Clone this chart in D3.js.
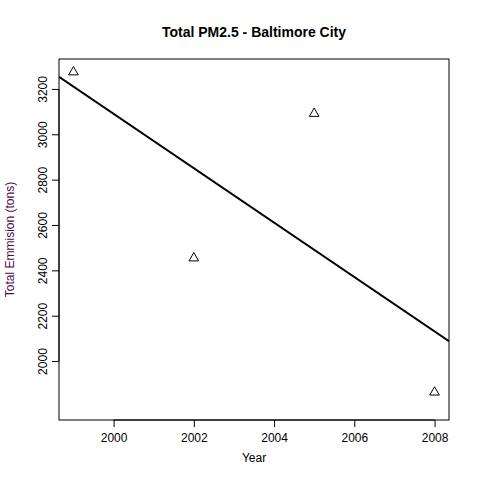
<!DOCTYPE html>
<html><head><meta charset="utf-8">
<script src="https://cdn.jsdelivr.net/npm/d3@7"></script>
<style>body{margin:0;background:#fff}text{font-family:"Liberation Sans",Arial,sans-serif}</style>
</head><body><div id="chart"></div>
<script>
const years = [1999, 2002, 2005, 2008];
const emissions = [3274.18, 2453.92, 3091.35, 1862.28];
const xTicks = [2000, 2002, 2004, 2006, 2008];
const yTicks = [2000, 2200, 2400, 2600, 2800, 3000, 3200];

const W = 480, H = 480, L = 59, R = 449, T = 59, B = 420;
const svg = d3.select('#chart').append('svg').attr('width', W).attr('height', H);

const x = d3.scaleLinear().domain([1998.64, 2008.36]).range([L, R]);
const y = d3.scaleLinear().domain([1740, 3332]).range([B, T]);

// least squares fit, like abline(lm(...))
const mx = d3.mean(years), my = d3.mean(emissions);
const slope = d3.sum(years, (v, i) => (v - mx) * (emissions[i] - my)) / d3.sum(years, v => (v - mx) ** 2);
const fit = v => my + slope * (v - mx);

svg.append('clipPath').attr('id', 'c').append('rect')
  .attr('x', L).attr('y', T).attr('width', R - L).attr('height', B - T);
svg.append('line').attr('clip-path', 'url(#c)')
  .attr('x1', x(1998.64)).attr('y1', y(fit(1998.64)))
  .attr('x2', x(2008.36)).attr('y2', y(fit(2008.36)))
  .attr('stroke', '#000').attr('stroke-width', 2);

const tri = d3.symbol().type(d3.symbolTriangle).size(40);
svg.selectAll('.pt').data(years).join('path')
  .attr('d', tri)
  .attr('transform', (d, i) => `translate(${x(d)},${y(emissions[i])})`)
  .attr('fill', 'none').attr('stroke', '#000').attr('stroke-width', 1);

svg.append('rect').attr('x', L).attr('y', T).attr('width', R - L).attr('height', B - T)
  .attr('fill', 'none').attr('stroke', '#000');

const xa = svg.append('g').attr('transform', `translate(0,${B})`)
  .call(d3.axisBottom(x).tickValues(xTicks).tickFormat(d3.format('d')).tickSize(7).tickPadding(6));
const ya = svg.append('g').attr('transform', `translate(${L},0)`)
  .call(d3.axisLeft(y).tickValues(yTicks).tickFormat(d3.format('d')).tickSize(7));
[xa, ya].forEach(a => {
  a.select('.domain').remove();
  a.selectAll('text').attr('font-size', 12).attr('fill', '#000')
    .attr('font-family', '"Liberation Sans",Arial,sans-serif');
});
ya.selectAll('text').attr('x', 0).attr('dy', 0).attr('y', -12)
  .attr('text-anchor', 'middle').attr('transform', 'rotate(-90)');

svg.append('line').attr('x1', x(2000)).attr('x2', x(2008)).attr('y1', B).attr('y2', B).attr('stroke', '#000');
svg.append('line').attr('x1', L).attr('x2', L).attr('y1', y(2000)).attr('y2', y(3200)).attr('stroke', '#000');

svg.append('text').attr('x', (L + R) / 2).attr('y', 37).attr('text-anchor', 'middle')
  .attr('font-weight', 'bold').attr('font-size', 14).text('Total PM2.5 - Baltimore City');
svg.append('text').attr('x', (L + R) / 2).attr('y', 462).attr('text-anchor', 'middle')
  .attr('font-size', 12).text('Year');
svg.append('text').attr('transform', `translate(14,${(T + B) / 2}) rotate(-90)`)
  .attr('text-anchor', 'middle').attr('font-size', 12).attr('fill', '#4b0a4b').text('Total Emmision (tons)');
</script></body></html>
